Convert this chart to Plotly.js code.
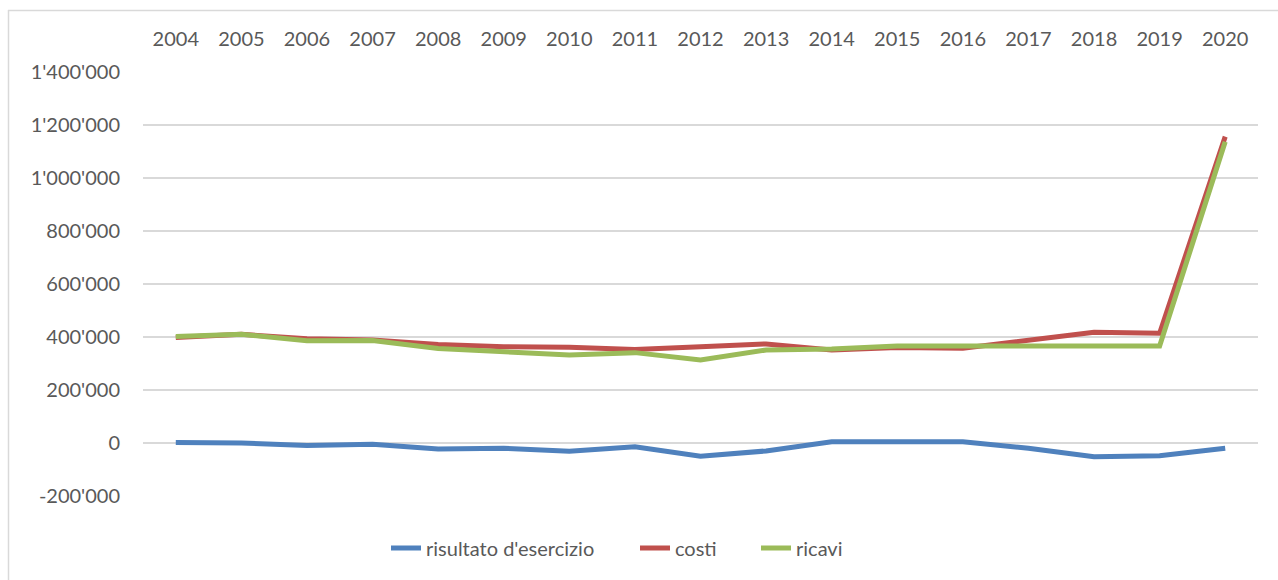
<!DOCTYPE html>
<html>
<head>
<meta charset="utf-8">
<script src="https://cdn.plot.ly/plotly-3.0.1.min.js"></script>
<style>html,body{margin:0;padding:0;background:#fff}#chart{width:1278px;height:580px}</style>
</head>
<body>
<div id="chart"></div>
<script>
const years = ['2004','2005','2006','2007','2008','2009','2010','2011','2012','2013','2014','2015','2016','2017','2018','2019','2020'];
const risultato = [2000, 0, -9000, -5000, -23000, -20000, -31000, -14000, -50000, -30000, 5000, 5000, 5000, -20000, -52000, -48000, -20000];
const costi = [398000, 410000, 393000, 389000, 372000, 363000, 361000, 353000, 363000, 374000, 351000, 360000, 358000, 387000, 418000, 414000, 1156000];
const ricavi = [402000, 410000, 386000, 387000, 357000, 345000, 332000, 341000, 313000, 351000, 355000, 366000, 366000, 366000, 366000, 366000, 1137000];
const tickVals = [-200000, 0, 200000, 400000, 600000, 800000, 1000000, 1200000, 1400000];
const tickText = ["-200'000", "0", "200'000", "400'000", "600'000", "800'000", "1'000'000", "1'200'000", "1'400'000"];

const mk = (name, y, color, lg) => ({
  type: 'scatter', mode: 'lines', name: name, x: years, y: y, legend: lg,
  line: {color: color, width: 5, shape: 'linear'}, cliponaxis: false
});
const data = [
  mk("risultato d'esercizio", risultato, '#4F81BD', 'legend'),
  mk('costi', costi, '#C0504D', 'legend2'),
  mk('ricavi', ricavi, '#9BBB59', 'legend3')
];
const font = {family: 'Lato, "Open Sans", sans-serif', size: 20, color: '#595959'};
const px = v => (v - 143) / 1115;
const lgY = (496 - 548) / 424;
const lg = x => ({orientation: 'h', x: px(x), xanchor: 'left', y: lgY, yanchor: 'middle', font: font, bgcolor: 'rgba(0,0,0,0)'});
const layout = {
  width: 1278, height: 580,
  margin: {l: 143, r: 20, t: 72, b: 84},
  paper_bgcolor: '#fff', plot_bgcolor: '#fff',
  font: font,
  showlegend: true,
  legend: lg(386),
  legend2: lg(635),
  legend3: lg(756),
  xaxis: {type: 'category', side: 'top', range: [-0.5, 16.5], showgrid: false, zeroline: false, showline: false,
          ticks: '', tickfont: font, ticklabelstandoff: 21},
  yaxis: {range: [-200000, 1400000], tickvals: tickVals, ticktext: tickText, showgrid: true, gridcolor: '#D9D9D9', gridwidth: 1.5,
          zeroline: false, showline: false, ticks: '', tickfont: font, ticklabelstandoff: 22},
  shapes: [
    {type: 'line', xref: 'paper', yref: 'paper', x0: px(8), x1: px(1278), y0: (496-10.5)/424, y1: (496-10.5)/424, line: {color: '#D9D9D9', width: 1.5}},
    {type: 'line', xref: 'paper', yref: 'paper', x0: px(8.5), x1: px(8.5), y0: (496-10)/424, y1: (496-580)/424, line: {color: '#D9D9D9', width: 1.5}}
  ]
};
Plotly.newPlot('chart', data, layout, {displayModeBar: false, staticPlot: true});
</script>
</body>
</html>
